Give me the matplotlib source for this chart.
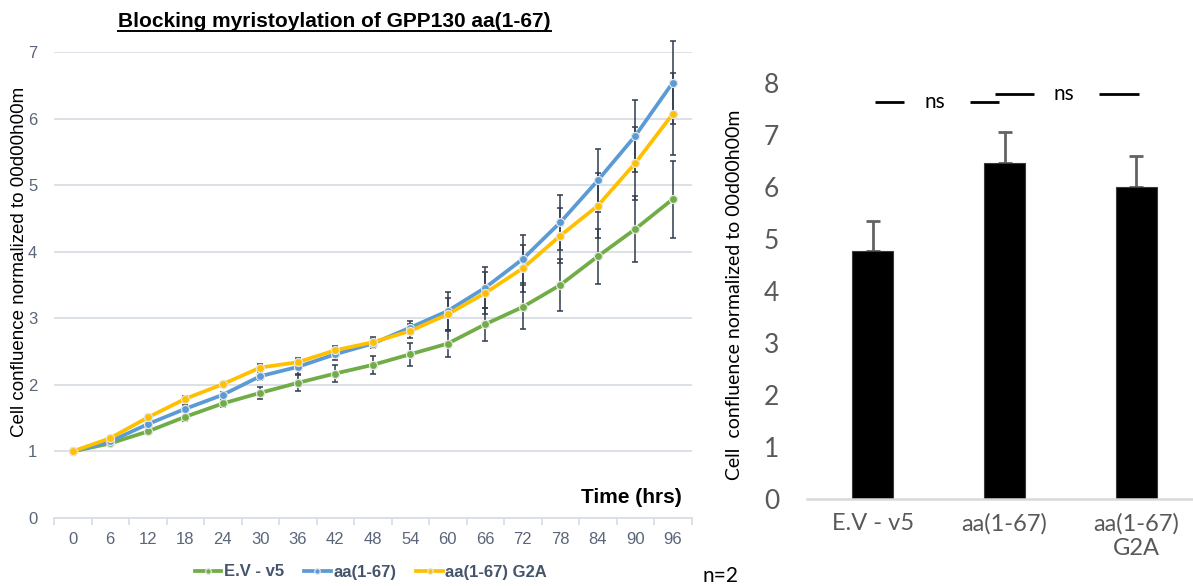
import numpy as np
import matplotlib
matplotlib.use('Agg')
import matplotlib.pyplot as plt
from matplotlib.lines import Line2D

# Time course: confluence normalised to t=0, n=2
hours = [0, 6, 12, 18, 24, 30, 36, 42, 48, 54, 60, 66, 72, 78, 84, 90, 96]

ev_mean = [1.00, 1.12, 1.30, 1.52, 1.72, 1.88, 2.03, 2.17, 2.30, 2.46, 2.62, 2.91, 3.17, 3.50, 3.93, 4.34, 4.79]
ev_err = [0.00, 0.02, 0.04, 0.07, 0.05, 0.09, 0.12, 0.13, 0.13, 0.17, 0.20, 0.25, 0.33, 0.39, 0.41, 0.50, 0.58]

aa_mean = [1.00, 1.15, 1.41, 1.64, 1.85, 2.13, 2.27, 2.46, 2.62, 2.86, 3.11, 3.46, 3.89, 4.44, 5.07, 5.74, 6.54]
aa_err = [0.00, 0.02, 0.04, 0.05, 0.05, 0.06, 0.10, 0.08, 0.07, 0.10, 0.29, 0.31, 0.36, 0.41, 0.48, 0.54, 0.62]

g2a_mean = [1.00, 1.20, 1.51, 1.79, 2.01, 2.26, 2.34, 2.52, 2.64, 2.81, 3.06, 3.38, 3.75, 4.24, 4.69, 5.33, 6.07]
g2a_err = [0.00, 0.02, 0.04, 0.04, 0.04, 0.05, 0.07, 0.06, 0.08, 0.10, 0.25, 0.32, 0.35, 0.41, 0.49, 0.55, 0.62]

series_names = ['E.V - v5', 'aa(1-67)', 'aa(1-67) G2A']
series_colors = ['#70AD47', '#5B9BD5', '#FFC000']

# Endpoint (96 h) summary
bar_labels = ['E.V - v5', 'aa(1-67)', 'aa(1-67)\nG2A']
bar_values = [4.77, 6.47, 6.01]
bar_errors = [0.58, 0.58, 0.58]

ARIAL = 'Liberation Sans'
CALIBRI = 'Lato'
GRID = '#D9DEE6'
TICK_TXT = '#596579'

fig = plt.figure(figsize=(11.93, 5.86), dpi=100)

# ------------------------------------------------------------
# Left: growth curves
# ------------------------------------------------------------
ax = fig.add_axes([54 / 1193, 1 - 518 / 586, 637.5 / 1193, 466 / 586])
x = np.arange(len(hours))

means = [ev_mean, aa_mean, g2a_mean]
errs = [ev_err, aa_err, g2a_err]
for m, e in zip(means, errs):
    eb = ax.errorbar(x, m, yerr=e, fmt='none', ecolor='#2F3B4C', elinewidth=1.1,
                     capsize=2.5, capthick=1.1, zorder=2)
    for art in eb.lines[1] + eb.lines[2]:
        art.set_clip_on(False)
for m, name, col in zip(means, series_names, series_colors):
    ax.plot(x, m, color=col, lw=2.7, marker='o', ms=5.8, mfc=col,
            mec='#E4E4E4', mew=0.9, label=name, zorder=3)

ax.set_xlim(-0.5, len(hours) - 0.5)
ax.set_ylim(0, 7)
ax.set_yticks(range(0, 8))
ax.set_xticks(x)
ax.set_xticklabels([str(h) for h in hours])
ax.set_xticks(np.arange(-0.5, len(hours)), minor=True)
ax.grid(axis='y', color=GRID, lw=1.3, zorder=0)
ax.set_axisbelow(True)
for s in ['top', 'right', 'left']:
    ax.spines[s].set_visible(False)
ax.spines['bottom'].set_color(GRID)
ax.spines['bottom'].set_linewidth(1.3)
ax.tick_params(axis='x', which='major', length=0, pad=10)
ax.tick_params(axis='x', which='minor', length=5, color=GRID, width=1.3)
ax.tick_params(axis='y', length=0, pad=12)
for lab in ax.get_xticklabels() + ax.get_yticklabels():
    lab.set_fontfamily(ARIAL)
    lab.set_fontsize(12)
    lab.set_color(TICK_TXT)

ax.text(0.985, 0.045, 'Time (hrs)', transform=ax.transAxes, ha='right',
        va='center', fontsize=15, fontweight='bold', family=ARIAL, color='black')

fig.text(20 / 1193, 1 - 262 / 586, 'Cell confluence normalized to 00d00h00m',
         rotation=90, ha='center', va='center', fontsize=13.5, family=ARIAL)

title = fig.text(334.5 / 1193, 1 - 27 / 586, 'Blocking myristoylation of GPP130 aa(1-67)',
                 ha='center', va='baseline', fontsize=15, fontweight='bold', family=ARIAL)

leg = fig.legend(*ax.get_legend_handles_labels(), loc='center',
                 bbox_to_anchor=(371 / 1193, 1 - 572 / 586), ncol=3, frameon=False,
                 handlelength=1.6, handletextpad=0.15, columnspacing=1.2,
                 prop={'family': ARIAL, 'weight': 'bold', 'size': 12})
for t in leg.get_texts():
    t.set_color('#44546A')
for h in leg.legend_handles:
    h.set_markersize(4)

fig.text(703 / 1193, 1 - 576 / 586, 'n=2', ha='left', va='center',
         fontsize=15, family=CALIBRI)

# ------------------------------------------------------------
# Right: 96 h endpoint bars
# ------------------------------------------------------------
bx = fig.add_axes([807 / 1193, 1 - 499.3 / 586, 386 / 1193, 416.3 / 586])
pos = np.arange(len(bar_values))
bx.bar(pos, bar_values, width=0.31, color='black', edgecolor='#3a3a3a',
       linewidth=0.8, zorder=2)
bx.errorbar(pos, bar_values, yerr=[np.zeros(len(bar_errors)), bar_errors],
            fmt='none', ecolor='#636363', elinewidth=2, capsize=5, capthick=2, zorder=1)
bx.set_xlim(-0.5, 2.43)
bx.set_ylim(0, 8)
bx.set_yticks(range(0, 9))
bx.set_xticks(pos)
bx.set_xticklabels(bar_labels)
for s in ['top', 'right', 'left']:
    bx.spines[s].set_visible(False)
bx.spines['bottom'].set_color('#D9D9D9')
bx.spines['bottom'].set_linewidth(1.8)
bx.tick_params(axis='y', length=0, pad=20)
bx.tick_params(axis='x', length=0, pad=10)
for lab in bx.get_yticklabels():
    lab.set_fontfamily(CALIBRI)
    lab.set_fontsize(19)
    lab.set_color('#595959')
for lab in bx.get_xticklabels():
    lab.set_fontfamily(CALIBRI)
    lab.set_fontsize(17)
    lab.set_color('#595959')

# significance brackets
sig = [((0.015, 0.236), (0.74, 0.96), 0.47, 7.63),
       ((0.93, 1.22), (1.72, 2.02), 1.45, 7.79)]
for seg_l, seg_r, xm, yv in sig:
    bx.plot(seg_l, [yv, yv], color='black', lw=2, solid_capstyle='butt', clip_on=False)
    bx.plot(seg_r, [yv, yv], color='black', lw=2, solid_capstyle='butt', clip_on=False)
    bx.text(xm, yv, 'ns', ha='center', va='center', fontsize=15, family=CALIBRI)

fig.text(735 / 1193, 1 - 294.5 / 586, 'Cell  confluence normalized to 00d00h00m',
         rotation=90, ha='center', va='center', fontsize=14, family=CALIBRI)

# underline the title
fig.canvas.draw()
bb = title.get_window_extent()
yline = (1 - 30.5 / 586) * fig.bbox.height
fig.add_artist(Line2D([bb.x0, bb.x1], [yline, yline], transform=None,
                      color='black', lw=1.4))

fig.savefig('out.png', dpi=100)
